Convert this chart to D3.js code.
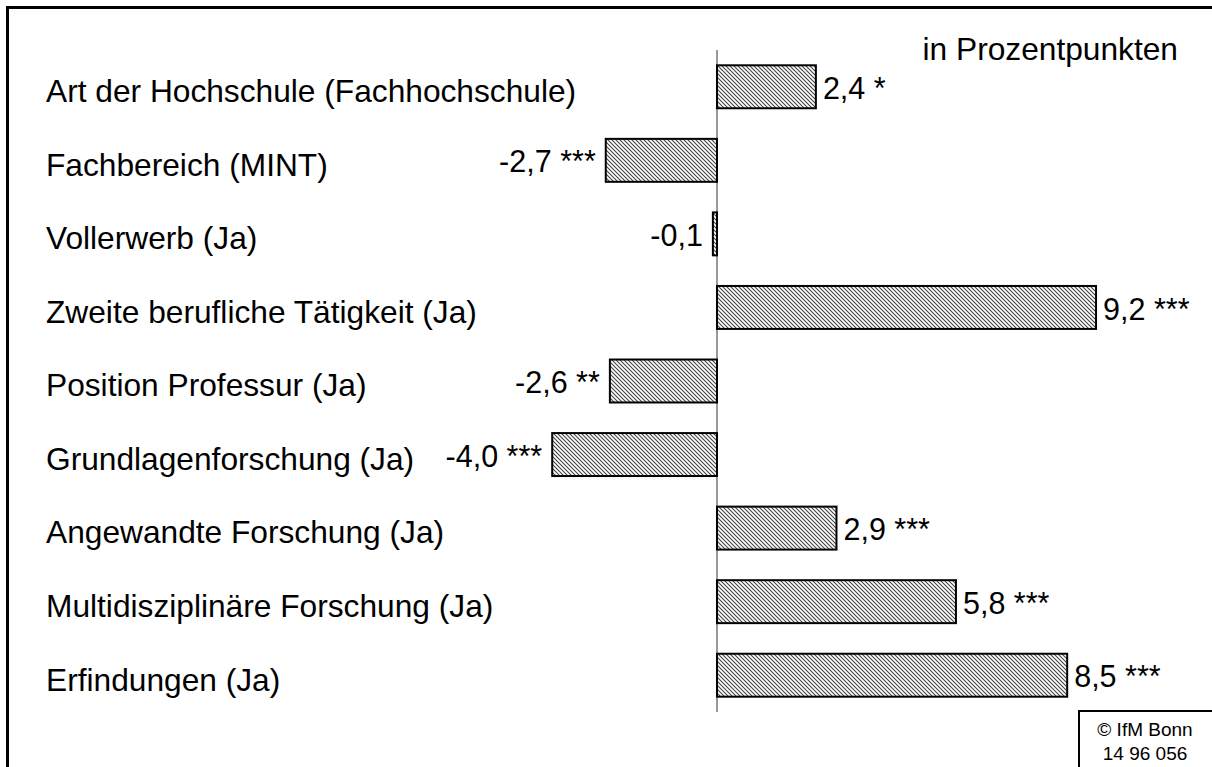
<!DOCTYPE html>
<html><head><meta charset="utf-8">
<script src="https://cdn.jsdelivr.net/npm/d3@7"></script>
<style>body{margin:0;background:#fff}svg{display:block}text{font-family:"Liberation Sans",Arial,sans-serif;fill:#000}</style>
</head><body>
<script>
const categories = ["Art der Hochschule (Fachhochschule)","Fachbereich (MINT)","Vollerwerb (Ja)","Zweite berufliche Tätigkeit (Ja)","Position Professur (Ja)","Grundlagenforschung (Ja)","Angewandte Forschung (Ja)","Multidisziplinäre Forschung (Ja)","Erfindungen (Ja)"];
const values = [2.4,-2.7,-0.1,9.2,-2.6,-4.0,2.9,5.8,8.5];
const valueLabels = ["2,4 *","-2,7 ***","-0,1","9,2 ***","-2,6 **","-4,0 ***","2,9 ***","5,8 ***","8,5 ***"];
const unitLabel = "in Prozentpunkten";
const sourceLines = ["© IfM Bonn","14 96 056"];

const W=1212,H=767;
const svg=d3.select("body").append("svg").attr("width",W).attr("height",H);
const defs=svg.append("defs");
const pat=defs.append("pattern").attr("id","hatch").attr("patternUnits","userSpaceOnUse").attr("width",4).attr("height",4);
pat.append("rect").attr("width",4).attr("height",4).attr("fill","#fff");
pat.append("path").attr("d","M-1,-1L5,5M-1,3L1,5M3,-1L5,1").attr("stroke","#444").attr("stroke-width",1.1);

const x=d3.scaleLinear().domain([-5,10]).range([717-5*41.2,717+10*41.2]);
const y=d3.scaleBand().domain(categories).range([50,712]).paddingInner(0.416).paddingOuter(0.208);

// frame
svg.append("path").attr("d",`M7.5,${H}V7.5H${W}`).attr("fill","none").attr("stroke","#000").attr("stroke-width",3);

// axis line
svg.append("line").attr("x1",x(0)).attr("x2",x(0)).attr("y1",50).attr("y2",712).attr("stroke","#333").attr("stroke-width",1);

const fs=31.7, vfs=30.5;
svg.selectAll("text.cat").data(categories).join("text").attr("class","cat")
  .attr("x",46).attr("y",d=>y(d)+y.bandwidth()/2+7).attr("dominant-baseline","middle")
  .attr("font-size",fs).text(d=>d);

svg.selectAll("rect.bar").data(values).join("rect").attr("class","bar")
  .attr("x",d=>x(Math.min(0,d))).attr("width",d=>Math.abs(x(d)-x(0)))
  .attr("y",(d,i)=>y(categories[i])).attr("height",y.bandwidth())
  .attr("fill","url(#hatch)").attr("stroke","#000").attr("stroke-width",2);

svg.selectAll("text.val").data(values).join("text").attr("class","val")
  .attr("x",d=>d>=0?x(d)+7:x(d)-10).attr("text-anchor",d=>d>=0?"start":"end")
  .attr("y",(d,i)=>y(categories[i])+y.bandwidth()/2+4).attr("dominant-baseline","middle")
  .attr("font-size",vfs).text((d,i)=>valueLabels[i]);

svg.append("text").attr("x",1178).attr("y",52).attr("text-anchor","end").attr("dominant-baseline","middle").attr("font-size",fs).text(unitLabel);

// source box
svg.append("path").attr("d",`M1079,${H}V711H${W}`).attr("fill","none").attr("stroke","#000").attr("stroke-width",2);
svg.selectAll("text.src").data(sourceLines).join("text").attr("class","src")
  .attr("x",1145).attr("y",(d,i)=>731+i*24).attr("text-anchor","middle").attr("dominant-baseline","middle")
  .attr("font-size",19).text(d=>d);
</script>
</body></html>
